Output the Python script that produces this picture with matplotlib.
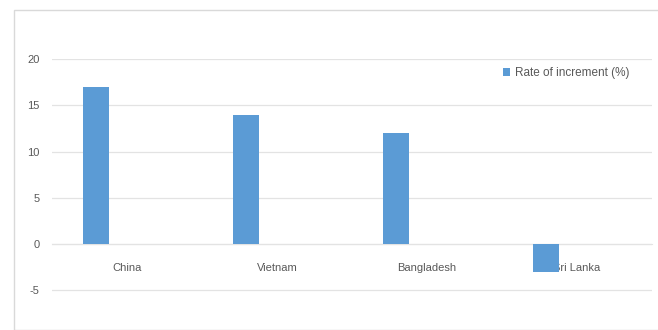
import matplotlib.pyplot as plt
import numpy as np
from matplotlib.patches import Rectangle

countries = ["China", "Vietnam", "Bangladesh", "Sri Lanka"]
increment = [17, 14, 12, -3]
series_name = "Rate of increment (%)"
yticks = [-5, 0, 5, 10, 15, 20]

plt.rcParams['font.family'] = ['Liberation Sans', 'DejaVu Sans']
plt.rcParams['axes.unicode_minus'] = False

fig = plt.figure(figsize=(6.58, 3.30), dpi=100)
W, H = 658, 330

# outer chart border
fig.patches.append(Rectangle((14 / W, 0), 1.2, (H - 10) / H, transform=fig.transFigure,
                             fill=False, edgecolor='#d9d9d9', linewidth=1))

# axes: x from 52 to 652 px, y=20 at 59 px, bottom at image edge
px_per_unit = (244 - 59) / 20.0
ybot = -(330 - 244) / px_per_unit
ax = fig.add_axes([52 / W, 0, (652 - 52) / W, (330 - 59) / H])
ax.set_ylim(ybot, 20)
ax.set_xlim(-0.5, 3.5)

x = np.arange(len(countries))
ax.bar(x - 0.207, increment, width=0.174, color='#5b9bd5', zorder=3, label=series_name)

ax.set_yticks(yticks)
ax.yaxis.grid(True, color='#e3e3e3', linewidth=0.9)
ax.set_axisbelow(True)
for s in ['top', 'right', 'left']:
    ax.spines[s].set_visible(False)
ax.spines['bottom'].set_position(('data', 0))
ax.spines['bottom'].set_color('#e3e3e3')
ax.set_xticks(x)
ax.set_xticklabels(countries)
ax.tick_params(axis='x', length=0, pad=14, labelsize=8, labelcolor='#595959')
ax.tick_params(axis='y', length=0, pad=9, labelsize=8, labelcolor='#595959')
ax.set_facecolor('none')

fig.legend(loc='center left', bbox_to_anchor=(503 / W, 1 - 73 / H), frameon=False,
           fontsize=8.5, labelcolor='#595959', handlelength=0.6, handleheight=0.6,
           handletextpad=0.4, borderpad=0, borderaxespad=0)

fig.savefig("out.png", dpi=100)
